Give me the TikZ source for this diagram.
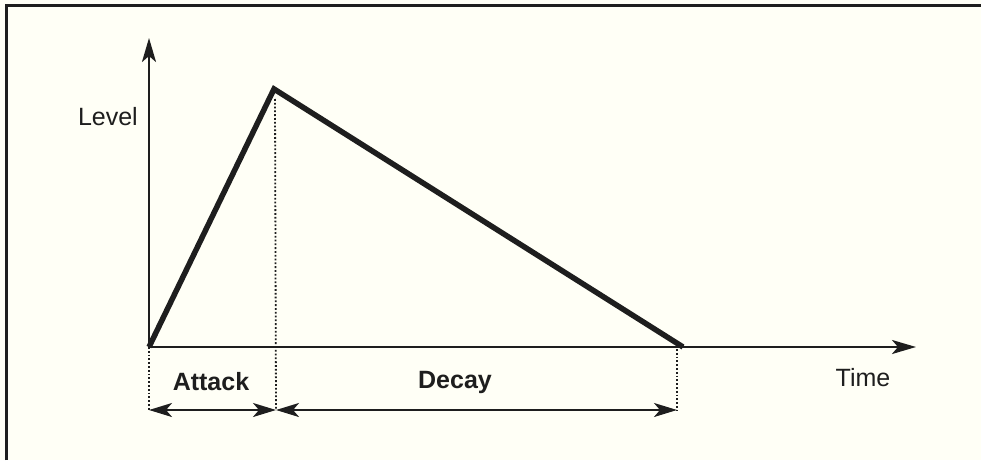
\documentclass[tikz,border=0pt]{standalone}
\usepackage{fontspec}
\setmainfont{Liberation Sans}
\usetikzlibrary{arrows.meta}
\definecolor{bgcream}{HTML}{FFFFF6}
\definecolor{ink}{HTML}{1E1E1E}
\tikzset{
  axisline/.style={ink, line width=2.6pt, -{Stealth[length=24pt,width=14pt,inset=6pt]}},
  envline/.style={ink, line width=5.5pt, line join=miter},
  guide/.style={ink, line width=1.8pt, dotted},
  dimline/.style={ink, line width=2.2pt, {Stealth[length=23pt,width=14pt,inset=6pt]}-{Stealth[length=23pt,width=14pt,inset=6pt]}},
  lbl/.style={font=\fontsize{25}{28}\selectfont, text=ink, inner sep=0pt},
  blbl/.style={lbl, font=\fontsize{25}{28}\selectfont\bfseries}
}
\begin{document}
\begin{tikzpicture}[x=1pt,y=-1pt]
\useasboundingbox (0,0) rectangle (981,460);
\fill[bgcream] (0,0) rectangle (981,460);
\draw[ink, line width=3pt] (6,460) -- (6,6) -- (981,6);
% key points
\coordinate (O) at (149,347);
\coordinate (P) at (274,89);
\coordinate (E) at (683,347);
\coordinate (Ytip) at (149,38);
\coordinate (Xtip) at (916,347);
\coordinate (PB) at (275,99);
\coordinate (g1) at (149,410);
\coordinate (g2) at (276,410);
\coordinate (g3) at (677,410);
\coordinate (E2) at (677,349);
% guides
\draw[guide] (O) -- (g1);
\draw[guide] (PB) -- (g2);
\draw[guide] (E2) -- (g3);
% axes
\draw[axisline] (O) -- (Ytip);
\draw[axisline] (O) -- (Xtip);
% envelope
\draw[envline] (O) -- (P) -- (E);
% dimension arrows
\draw[dimline] (g1) -- (g2);
\draw[dimline] (g2) -- (g3);
% labels
\node[lbl, anchor=east] (level) at (138,117) {Level};
\node[lbl] (time) at (863,378) {Time};
\node[blbl] (attack) at (211,382) {Attack};
\node[blbl] (decay) at (455,382) {Decay};
\end{tikzpicture}
\end{document}
